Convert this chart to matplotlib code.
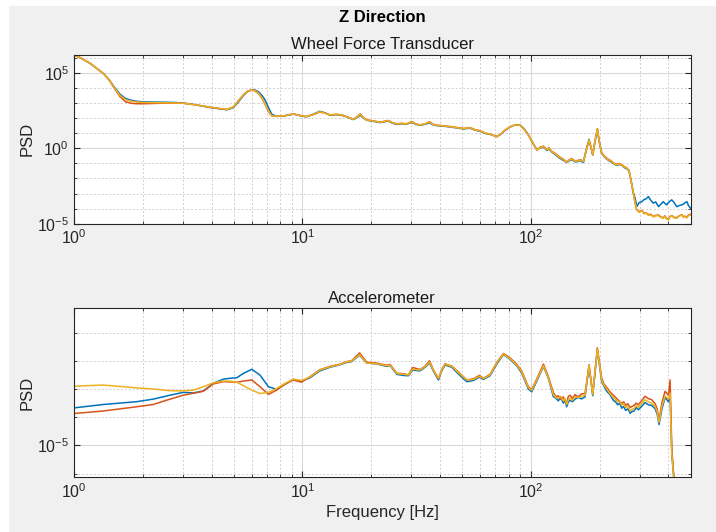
import numpy as np
import matplotlib
matplotlib.use("Agg")
from matplotlib import pyplot as plt
from matplotlib.patches import Rectangle
from matplotlib.ticker import NullFormatter

plt.rcParams['font.family'] = ['Liberation Sans', 'DejaVu Sans']

# ---- Wheel Force Transducer (log10 PSD) ----
f_top = [1.0, 1.08, 1.175, 1.25, 1.34, 1.42, 1.49, 1.59, 1.68, 1.78, 1.88, 2.0, 2.22, 2.5, 2.8,
         3.01, 3.4, 3.94, 4.3, 4.66, 4.98, 5.25, 5.51, 5.75, 6.0, 6.2, 6.41, 6.65, 6.86, 7.1,
         7.34, 7.7, 8.25, 9.12, 9.7, 10.4, 11.2, 11.9, 12.5, 13.2, 14.1, 14.9, 15.8, 16.7, 17.3,
         17.9, 18.5, 19.1, 20.5, 21.9, 23.8, 24.8, 25.9, 27.2, 28.6, 30.1, 31.4, 32.7, 34.3, 36.0,
         37.3, 38.7, 41.5, 44.3, 47.5, 50.7, 54.2, 57.0, 60.0, 63.0, 66.3, 70.9, 74.0, 77.1, 81.0,
         85.3, 89.7, 93.5, 97.5, 102, 106.2, 110, 113.5, 117.4, 120, 123.4, 127.5, 131.9, 138, 143.5,
         147, 151, 156, 161.4, 165, 169.8, 175, 179.8, 183.5, 186.6, 191, 195.5, 199.5, 204.3, 210,
         218.4, 224, 230, 237.6, 243, 250, 256, 262, 269, 275, 281, 286, 291, 298, 306,
         313, 320, 327, 335, 344, 352, 362, 371, 380, 386, 393, 400, 407, 414, 424,
         435, 446, 458, 466, 474, 482, 490, 500]
wft_blue = [6.20, 5.95, 5.63, 5.32, 4.97, 4.57, 4.12, 3.58, 3.30, 3.18, 3.11, 3.08, 3.06, 3.05, 3.03,
            3.0, 2.88, 2.70, 2.62, 2.55, 2.68, 3.08, 3.48, 3.76, 3.87, 3.86, 3.75, 3.50, 3.20, 2.70,
            2.25, 2.12, 2.13, 2.26, 2.17, 2.08, 2.27, 2.45, 2.36, 2.18, 2.22, 2.18, 2.05, 1.90, 2.02,
            2.18, 2.00, 1.86, 1.78, 1.70, 1.80, 1.66, 1.58, 1.62, 1.60, 1.70, 1.58, 1.52, 1.58, 1.68,
            1.56, 1.50, 1.46, 1.41, 1.34, 1.28, 1.33, 1.20, 1.12, 0.98, 0.92, 0.78, 0.93, 1.18, 1.40,
            1.55, 1.53, 1.28, 0.90, 0.33, -0.08, 0.02, 0.08, -0.15, -0.05, -0.25, -0.40, -0.60, -0.78, -0.95,
            -0.84, -0.75, -0.90, -0.88, -0.82, -0.95, -0.05, 0.60, 0.0, -0.46, 0.45, 1.25, 0.38, -0.35, -0.58,
            -0.80, -0.90, -1.02, -1.14, -1.08, -1.12, -1.28, -1.34, -1.50, -2.20, -2.95, -3.30, -3.86, -3.60, -3.54,
            -3.40, -3.35, -3.20, -3.45, -3.64, -3.55, -3.87, -3.70, -3.54, -3.65, -3.75, -3.60, -3.50, -3.42, -3.60,
            -3.87, -3.80, -3.75, -3.70, -3.60, -3.54, -3.80, -3.97]
wft_red = [6.20, 5.95, 5.63, 5.32, 4.97, 4.55, 4.05, 3.42, 3.08, 2.98, 2.95, 2.95, 2.97, 2.99, 2.99,
           2.98, 2.88, 2.72, 2.64, 2.57, 2.73, 3.16, 3.54, 3.79, 3.86, 3.80, 3.63, 3.32, 2.92, 2.42,
           2.15, 2.11, 2.14, 2.28, 2.18, 2.10, 2.24, 2.40, 2.34, 2.21, 2.25, 2.21, 2.07, 1.93, 2.07,
           2.28, 2.03, 1.88, 1.81, 1.73, 1.84, 1.69, 1.62, 1.65, 1.62, 1.77, 1.61, 1.55, 1.61, 1.76,
           1.59, 1.53, 1.49, 1.44, 1.37, 1.31, 1.37, 1.23, 1.16, 1.01, 0.94, 0.76, 0.95, 1.21, 1.42,
           1.56, 1.52, 1.24, 0.87, 0.36, -0.12, 0.07, 0.14, -0.08, 0.03, -0.20, -0.33, -0.52, -0.70, -0.90,
           -0.78, -0.68, -0.84, -0.80, -0.76, -0.86, -0.12, 0.52, 0.06, -0.42, 0.52, 1.30, 0.42, -0.30, -0.52,
           -0.74, -0.82, -0.98, -1.08, -1.02, -1.08, -1.22, -1.28, -1.46, -2.20, -3.0, -3.62, -4.10, -4.20, -4.12,
           -4.32, -4.28, -4.40, -4.38, -4.52, -4.45, -4.42, -4.56, -4.60, -4.48, -4.66, -4.70, -4.52, -4.46, -4.58,
           -4.60, -4.48, -4.40, -4.55, -4.50, -4.58, -4.42, -4.38]
wft_yellow = [6.20, 5.95, 5.63, 5.32, 4.97, 4.55, 4.08, 3.50, 3.22, 3.12, 3.06, 3.04, 3.02, 3.01, 3.0,
              2.98, 2.88, 2.72, 2.64, 2.57, 2.72, 3.15, 3.53, 3.78, 3.86, 3.82, 3.66, 3.35, 2.95, 2.45,
              2.16, 2.12, 2.14, 2.27, 2.18, 2.09, 2.25, 2.42, 2.33, 2.20, 2.24, 2.20, 2.06, 1.92, 2.05,
              2.25, 2.02, 1.87, 1.80, 1.72, 1.83, 1.68, 1.61, 1.64, 1.61, 1.74, 1.60, 1.54, 1.60, 1.74,
              1.58, 1.52, 1.48, 1.43, 1.36, 1.30, 1.36, 1.22, 1.15, 1.0, 0.93, 0.77, 0.95, 1.21, 1.42,
              1.56, 1.52, 1.25, 0.88, 0.35, -0.11, 0.05, 0.11, -0.11, 0.0, -0.23, -0.35, -0.56, -0.72, -0.93,
              -0.80, -0.71, -0.86, -0.84, -0.78, -0.89, -0.10, 0.55, 0.05, -0.44, 0.50, 1.28, 0.40, -0.33, -0.55,
              -0.77, -0.85, -1.0, -1.11, -1.05, -1.11, -1.25, -1.30, -1.48, -2.20, -2.98, -3.60, -4.09, -4.25, -4.15,
              -4.35, -4.30, -4.45, -4.42, -4.55, -4.48, -4.46, -4.60, -4.64, -4.50, -4.70, -4.75, -4.55, -4.48, -4.62,
              -4.64, -4.50, -4.42, -4.58, -4.53, -4.62, -4.45, -4.42]

# ---- Accelerometer (log10 PSD) ----
f_bot = [1.0, 1.34, 1.88, 2.22, 2.63, 3.01, 3.33, 3.68, 4.07, 4.51, 4.82, 5.16, 5.51, 6.0, 6.52,
         7.1, 7.71, 8.39, 9.12, 9.9, 10.8, 11.9, 13.2, 14.6, 15.6, 16.4, 17.8, 19.1, 21.1, 23.4,
         24.2, 25.9, 27.7, 29.1, 30.4, 32.7, 34.4, 36.0, 37.4, 39.4, 40.7, 42.1, 45.1, 48.2, 52.4,
         56.0, 59.5, 62.0, 66.3, 70.9, 75.9, 81.1, 86.8, 91.2, 97.5, 100.9, 106.2, 113.5, 119.3, 125.4,
         128.5, 131.9, 135, 138.7, 141, 143.5, 146, 148.5, 152, 156.2, 161, 167, 172.7, 179.8, 186.6,
         195.5, 204.3, 209, 214.8, 222, 229.6, 235, 240, 245, 250, 255, 260, 266, 272, 277,
         283, 289, 295.5, 305, 316, 327, 338, 350, 357, 364, 375, 387, 400, 407, 414,
         425]
acc_blue = [-3.67, -3.55, -3.45, -3.36, -3.22, -3.12, -3.14, -3.07, -2.80, -2.65, -2.62, -2.60, -2.45, -2.30, -2.51,
            -2.92, -3.01, -2.83, -2.66, -2.72, -2.60, -2.36, -2.23, -2.14, -2.06, -2.03, -1.80, -2.08, -2.11, -2.20,
            -2.17, -2.48, -2.52, -2.53, -2.33, -2.36, -2.23, -2.08, -2.36, -2.68, -2.36, -2.15, -2.23, -2.47, -2.74,
            -2.70, -2.58, -2.66, -2.53, -2.12, -1.78, -1.95, -2.18, -2.44, -3.0, -3.10, -2.72, -2.20, -2.62, -3.27,
            -3.32, -3.42, -3.30, -3.50, -3.40, -3.63, -3.45, -3.40, -3.45, -3.36, -3.30, -3.35, -3.28, -2.20, -3.24,
            -1.62, -2.75, -2.90, -3.08, -3.20, -3.40, -3.46, -3.56, -3.50, -3.68, -3.62, -3.76, -3.70, -3.86, -3.80,
            -3.78, -3.66, -3.74, -3.62, -3.48, -3.56, -3.58, -3.70, -3.88, -4.26, -3.70, -3.30, -3.45, -3.25, -5.30,
            -6.40]
acc_red = [-3.87, -3.78, -3.63, -3.55, -3.36, -3.22, -3.15, -3.08, -2.82, -2.74, -2.75, -2.76, -2.72, -2.68, -2.92,
           -3.19, -3.04, -2.83, -2.68, -2.76, -2.56, -2.32, -2.20, -2.12, -2.03, -2.00, -1.72, -2.05, -2.08, -2.16,
           -2.13, -2.44, -2.46, -2.50, -2.24, -2.31, -2.19, -2.00, -2.31, -2.64, -2.31, -2.11, -2.19, -2.40, -2.68,
           -2.64, -2.52, -2.62, -2.48, -2.06, -1.74, -1.90, -2.12, -2.36, -2.92, -3.02, -2.64, -2.12, -2.56, -3.12,
           -3.28, -3.24, -3.36, -3.28, -3.42, -3.48, -3.26, -3.22, -3.33, -3.20, -3.28, -3.17, -3.16, -2.14, -3.16,
           -1.54, -2.62, -2.82, -2.94, -3.10, -3.22, -3.30, -3.38, -3.44, -3.50, -3.46, -3.58, -3.52, -3.66, -3.62,
           -3.58, -3.50, -3.56, -3.42, -3.26, -3.34, -3.38, -3.52, -3.70, -4.10, -3.48, -3.08, -3.22, -2.68, -5.10,
           -6.40]
acc_yellow = [-2.90, -2.86, -2.96, -3.00, -3.06, -3.07, -3.04, -2.92, -2.78, -2.72, -2.72, -2.76, -2.88, -3.04, -3.16,
              -3.12, -2.98, -2.80, -2.65, -2.70, -2.57, -2.33, -2.21, -2.13, -2.04, -2.01, -1.78, -2.08, -2.10, -2.18,
              -2.15, -2.45, -2.48, -2.50, -2.30, -2.33, -2.20, -2.05, -2.33, -2.62, -2.33, -2.12, -2.20, -2.42, -2.68,
              -2.66, -2.55, -2.63, -2.50, -2.08, -1.76, -1.93, -2.15, -2.40, -2.95, -3.05, -2.68, -2.18, -2.60, -3.20,
              -3.30, -3.33, -3.26, -3.42, -3.34, -3.55, -3.38, -3.32, -3.40, -3.28, -3.30, -3.26, -3.22, -2.17, -3.20,
              -1.58, -2.70, -2.86, -3.00, -3.16, -3.30, -3.38, -3.46, -3.42, -3.58, -3.52, -3.66, -3.60, -3.78, -3.72,
              -3.70, -3.58, -3.66, -3.52, -3.38, -3.46, -3.50, -3.62, -3.80, -4.18, -3.60, -3.25, -3.35, -3.15, -5.30,
              -6.40]

colors = ['#0072BD', '#D95319', '#EDB120']

fig = plt.figure(figsize=(7.16, 5.32), dpi=100, facecolor='white')
fig.add_artist(Rectangle((9 / 716, 0), 1, 1 - 6 / 532, transform=fig.transFigure,
                         facecolor='#f0f0f0', edgecolor='none', zorder=-5))

ax1 = fig.add_axes([0.1034, 0.5795, 0.861, 0.3177])
ax2 = fig.add_axes([0.1034, 0.1028, 0.861, 0.3177])

for c, s in zip(colors, [wft_blue, wft_red, wft_yellow]):
    ax1.plot(f_top, 10.0 ** np.array(s), color=c, lw=1.1)
for c, s in zip(colors, [acc_blue, acc_red, acc_yellow]):
    ax2.plot(f_bot, 10.0 ** np.array(s), color=c, lw=1.1)

for ax, t in [(ax1, 'Wheel Force Transducer'), (ax2, 'Accelerometer')]:
    ax.set_xscale('log')
    ax.set_yscale('log')
    ax.set_xlim(1, 500)
    if ax is ax1:
        ax.set_ylim(1e-5, 10 ** 6.2)
        ax.set_yticks([1e-5, 1e0, 1e5])
        ax.set_yticks([10.0 ** k for k in range(-5, 7)], minor=True)
    else:
        ax.set_ylim(10 ** -6.13, 10 ** -0.14)
        ax.set_yticks([1e-5])
        ax.set_yticks([10.0 ** k for k in range(-6, 0)], minor=True)
    ax.yaxis.set_minor_formatter(NullFormatter())
    ax.xaxis.set_minor_formatter(NullFormatter())
    ax.grid(True, which='major', color='#d9d9d9', lw=0.8, ls='-')
    ax.grid(True, which='minor', color='#cfcfcf', lw=0.7, ls=(0, (2, 2)))
    ax.tick_params(which='both', direction='in', top=True, right=True, colors='#262626',
                   labelsize=11.5)
    ax.tick_params(which='major', length=4)
    ax.tick_params(which='minor', length=2)
    for sp in ax.spines.values():
        sp.set_color('#262626')
        sp.set_linewidth(0.8)
    ax.set_title(t, fontsize=12, color='#1a1a1a', pad=4)
    ax.set_ylabel('PSD', fontsize=12, color='#262626', labelpad=2)
    ax.set_axisbelow(True)

ax2.set_xlabel('Frequency [Hz]', fontsize=12, color='#262626', labelpad=3)
fig.text(0.5335, 1 - 17 / 532, 'Z Direction', ha='center', va='center',
         fontsize=12, fontweight='bold', color='#000000')

fig.savefig('out.png', dpi=100, facecolor=fig.get_facecolor())
